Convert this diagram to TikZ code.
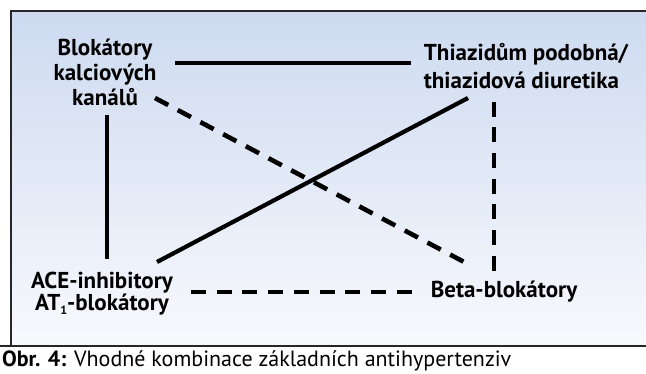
\documentclass[tikz,border=0pt]{standalone}
\usepackage{fontspec}
\setmainfont{PT Sans}
\usepackage{xcolor}
\usetikzlibrary{positioning, calc}
\definecolor{panelTop}{RGB}{205,218,240}
\definecolor{panelBottom}{RGB}{248,249,253}

\begin{document}
\begin{tikzpicture}[x=1pt, y=-1pt,
            drug/.style={inner sep=0pt, align=center, font=\fontsize{23}{25}\selectfont\bfseries},
            good/.style={line width=4.2pt},
            weaker/.style={line width=4.6pt, dash pattern=on 15pt off 10.7pt},
            frame/.style={line width=1.2pt, draw=black!85}
        ]

% Background panel
            \useasboundingbox (0,0) rectangle (646,374);
            \shade[top color=panelTop, bottom color=panelBottom] (11,11) rectangle (646,346);
            \draw[frame] (646,11) -- (11,11) -- (11,346);
            \draw[frame] (0,346) -- (646,346);

% Drug classes
            \node[drug] (ccb) at (105,72) {Blokátory\\kalciových\\kanálů};
            \node[drug, align=left, font=\fontsize{23}{28}\selectfont\bfseries] (thiazide) at (526,66) {Thiazidům podobná/\\thiazidová diuretika};
            \node[drug, font=\fontsize{23}{21}\selectfont\bfseries] (ace) at (102,294) {ACE-inhibitory\\AT\raisebox{-4pt}{\fontsize{12}{12}\selectfont 1}-blokátory};
            \node[drug] (beta) at (504,292) {Beta-blokátory};

% Preferred combinations
            \draw[good] ([shift={(70,-9)}]ccb.center) -- ([shift={(-115,-3)}]thiazide.center);
            \draw[good] ([shift={(2,43)}]ccb.center) -- ([shift={(5,-35)}]ace.center);
            \draw[good] ([shift={(55,-32)}]ace.center) -- ([shift={(-58,32)}]thiazide.center);

% Other combinations
            \draw[weaker] ([shift={(50,26)}]ccb.center) -- ([shift={(-38,-29)}]beta.center);
            \draw[weaker] ([shift={(-32,35.7)}]thiazide.center) -- ([shift={(-10,-21.3)}]beta.center);
            \draw[weaker] ([shift={(89,-2)}]ace.center) -- ([shift={(-92,0)}]beta.center);

% Caption
            \node[anchor=west, inner sep=0pt, font=\fontsize{22}{24}\selectfont] (caption) at (2,361) {\textbf{Obr. 4:} Vhodné kombinace základních antihypertenziv};

        \end{tikzpicture}
\end{document}
